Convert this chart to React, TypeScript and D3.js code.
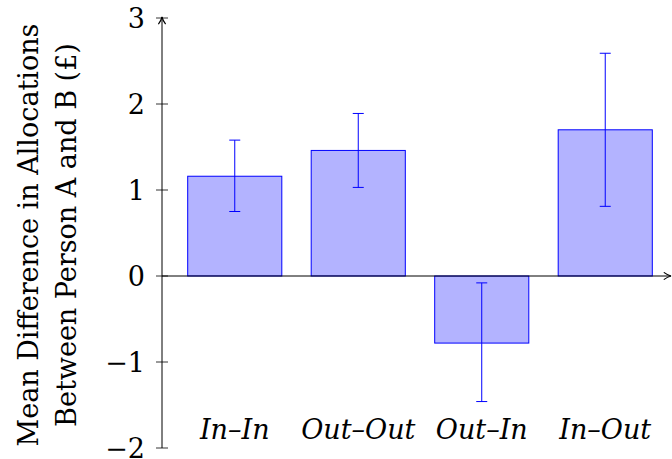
import React from "react";
import * as d3 from "d3";

const categories = ["In–In", "Out–Out", "Out–In", "In–Out"];
const means = [1.16, 1.46, -0.78, 1.7];
const errLow = [0.75, 1.03, -1.46, 0.81];
const errHigh = [1.58, 1.89, -0.08, 2.59];
const yTicks = [-2, -1, 0, 1, 2, 3];
const yLabelLines = ["Mean Difference in Allocations", "Between Person A and B (£)"];

const W = 672;
const H = 459;
const FF = "DejaVu Serif";
const FS = "27px";

export default function App() {
  const x = d3
    .scaleBand<string>()
    .domain(categories)
    .range([163, 677])
    .paddingInner(0.238)
    .paddingOuter(0.2);
  const y = d3.scaleLinear().domain([-2, 3]).range([448, 18]);
  const axisX = 162;
  const capW = 11;

  return (
    <svg width={W} height={H} style={{ position: "absolute", left: 0, top: 0 }}>
      <defs>
        <marker
          id="arr"
          viewBox="0 0 10 10"
          refX="9"
          refY="5"
          markerWidth="9"
          markerHeight="9"
          markerUnits="userSpaceOnUse"
          orient="auto"
        >
          <path d="M1,1 Q5,4 9,5 Q5,6 1,9" fill="none" stroke="#000" strokeWidth="1.3" />
        </marker>
      </defs>
      {categories.map((c, i) => {
        const x0 = x(c)!;
        const y0 = y(Math.max(0, means[i]));
        const y1 = y(Math.min(0, means[i]));
        return (
          <rect
            key={c}
            x={x0}
            y={y0}
            width={x.bandwidth()}
            height={y1 - y0}
            fill="#b3b3ff"
            stroke="#0000ff"
            strokeWidth={1}
          />
        );
      })}
      <line x1={axisX} x2={671} y1={y(0)} y2={y(0)} stroke="#000" strokeWidth={1} markerEnd="url(#arr)" />
      {categories.map((c, i) => {
        const cx = x(c)! + x.bandwidth() / 2;
        return (
          <g key={c} stroke="#0000ff" strokeWidth={1}>
            <line x1={cx} x2={cx} y1={y(errLow[i])} y2={y(errHigh[i])} />
            <line x1={cx - capW / 2} x2={cx + capW / 2} y1={y(errLow[i])} y2={y(errLow[i])} />
            <line x1={cx - capW / 2} x2={cx + capW / 2} y1={y(errHigh[i])} y2={y(errHigh[i])} />
          </g>
        );
      })}
      <line x1={axisX} x2={axisX} y1={y(-2)} y2={y(3) - 1} stroke="#000" strokeWidth={1} markerEnd="url(#arr)" />
      {yTicks.map((t) => (
        <g key={t}>
          <line x1={axisX - 6} x2={axisX + 6} y1={y(t)} y2={y(t)} stroke="#000" strokeWidth={0.8} />
          <text
            x={145}
            y={y(t) + 10}
            textAnchor="end"
            fontSize={FS}
            fontFamily={FF}
            fill="#000"
          >
            {t < 0 ? "−" + Math.abs(t) : String(t)}
          </text>
        </g>
      ))}
      {categories.map((c) => (
        <text
          key={c}
          x={x(c)! + x.bandwidth() / 2}
          y={439}
          textAnchor="middle"
          fontSize={FS}
          fontStyle="italic"
          fontFamily={FF}
          fill="#000"
        >
          {c}
        </text>
      ))}
      <g transform="translate(0,235) rotate(-90)">
        {yLabelLines.map((l, i) => (
          <text
            key={l}
            x={0}
            y={38 + i * 38}
            textAnchor="middle"
            fontSize={FS}
            fontFamily={FF}
            fill="#000"
          >
            {l}
          </text>
        ))}
      </g>
    </svg>
  );
}
